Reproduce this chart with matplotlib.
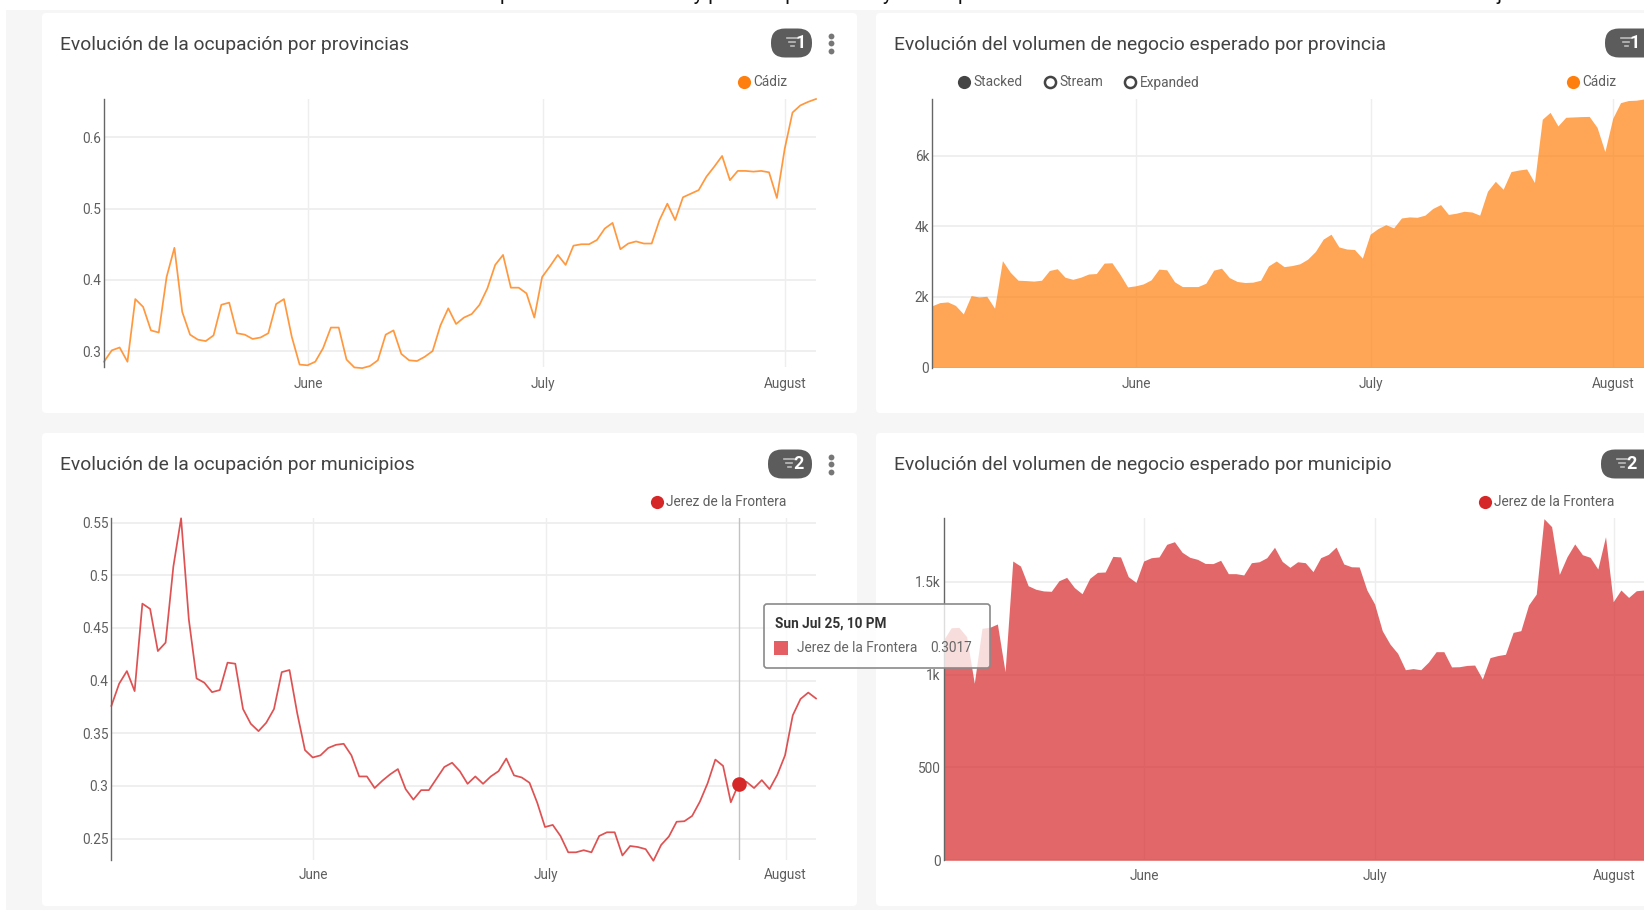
import matplotlib
matplotlib.use("Agg")
import matplotlib.pyplot as plt
import matplotlib.dates as mdates
import pandas as pd
from matplotlib.patches import FancyBboxPatch, Rectangle

W, H = 1644, 910

plt.rcParams["font.family"] = ["Roboto", "DejaVu Sans"]

dates = pd.date_range("2021-05-05 22:00", periods=92, freq="D")

ocupacion_provincia = [
    .285, .301, .305, .285, .373, .362, .329, .326, .404, .445, .355, .323, .316, .314, .322, .365,
    .368, .325, .323, .317, .319, .325, .366, .373, .320, .281, .280, .285, .304, .333, .333, .288,
    .277, .276, .279, .287, .323, .329, .296, .287, .286, .292, .300, .336, .360, .338, .347, .352,
    .365, .388, .421, .435, .389, .389, .381, .347, .404, .419, .435, .421, .448, .450, .450, .456,
    .472, .480, .443, .451, .454, .451, .451, .484, .507, .484, .516, .521, .526, .545, .559, .574,
    .540, .553, .553, .552, .553, .551, .515, .584, .635, .645, .650, .654,
]
volumen_provincia = [
    1750, 1840, 1860, 1760, 1520, 2040, 2000, 2020, 1680, 3030, 2700, 2475, 2465, 2450, 2475, 2750,
    2800, 2560, 2500, 2560, 2650, 2665, 2960, 2970, 2650, 2285, 2315, 2370, 2485, 2790, 2770, 2430,
    2295, 2295, 2295, 2390, 2760, 2815, 2550, 2440, 2410, 2420, 2475, 2880, 3020, 2860, 2890, 2940,
    3070, 3290, 3640, 3780, 3420, 3360, 3345, 3100, 3780, 3940, 4050, 3960, 4240, 4270, 4260, 4320,
    4510, 4620, 4340, 4375, 4430, 4410, 4320, 5000, 5280, 5055, 5555, 5600, 5630, 5245, 7040, 7235,
    6850, 7095, 7105, 7115, 7120, 6810, 6120, 7065, 7510, 7570, 7580, 7614,
]
ocupacion_municipio = [
    .376, .397, .409, .390, .473, .468, .428, .436, .508, .554, .458, .402, .398, .389, .391, .417,
    .416, .373, .359, .352, .360, .373, .408, .410, .369, .334, .327, .329, .336, .339, .340, .329,
    .309, .309, .298, .305, .311, .316, .297, .287, .296, .296, .307, .318, .322, .314, .302, .309,
    .302, .309, .314, .326, .310, .308, .303, .284, .261, .263, .2525, .237, .237, .239, .237, .2525,
    .256, .256, .234, .243, .242, .240, .229, .244, .252, .266, .2665, .2715, .285, .3025, .325, .319,
    .2845, .3017, .304, .298, .3055, .297, .3105, .329, .367, .3825, .3886, .383,
]
volumen_municipio = [
    1186, 1252, 1254, 1204, 953, 1249, 1254, 1272, 1015, 1611, 1584, 1478, 1459, 1450, 1448, 1505,
    1523, 1468, 1435, 1518, 1550, 1552, 1636, 1633, 1527, 1496, 1611, 1629, 1633, 1701, 1715, 1658,
    1631, 1620, 1598, 1597, 1615, 1543, 1543, 1536, 1602, 1607, 1629, 1685, 1609, 1577, 1607, 1602,
    1554, 1629, 1647, 1686, 1595, 1580, 1579, 1455, 1380, 1236, 1164, 1114, 1026, 1032, 1026, 1067,
    1123, 1123, 1041, 1042, 1049, 1051, 976, 1091, 1102, 1109, 1227, 1236, 1374, 1433, 1839, 1796,
    1539, 1634, 1703, 1645, 1631, 1568, 1742, 1392, 1455, 1415, 1451, 1455,
]

yticks_ocup_prov = [0.3, 0.4, 0.5, 0.6]
yticks_vol_prov = [0, 2000, 4000, 6000]
ylabels_vol_prov = ["0", "2k", "4k", "6k"]
yticks_ocup_mun = [0.25, 0.3, 0.35, 0.4, 0.45, 0.5, 0.55]
yticks_vol_mun = [0, 500, 1000, 1500]
ylabels_vol_mun = ["0", "500", "1k", "1.5k"]

ORANGE = "#ff7f0e"
RED = "#d62728"
GRID = "#eeeeee"
TEXT = "#5f5f5f"
FONT = 9.8

fig = plt.figure(figsize=(W / 100, H / 100), dpi=100, facecolor="white")


def px_axes(x0, y0, x1, y1, zorder=1):
    return fig.add_axes([x0 / W, 1 - y1 / H, (x1 - x0) / W, (y1 - y0) / H], zorder=zorder)


back = px_axes(0, 0, W, H, zorder=0)
back.set_xlim(0, W)
back.set_ylim(H, 0)
back.axis("off")

over = px_axes(0, 0, W, H, zorder=5)
over.set_xlim(0, W)
over.set_ylim(H, 0)
over.axis("off")
over.patch.set_alpha(0)

back.add_patch(Rectangle((6, 10), W - 6, H - 10, fc="#f6f6f6", ec="none"))


def card(x0, y0, x1, y1):
    back.add_patch(FancyBboxPatch((x0 + 4, y0 + 4), x1 - x0 - 8, y1 - y0 - 8,
                                  boxstyle="round,pad=4,rounding_size=4", fc="white", ec="none"))


def header(title, x, y, badge_x0, badge_x1, badge, dots):
    over.text(x, y + 1.5, title, fontsize=13.9, color="#424242", va="center", ha="left")
    over.add_patch(FancyBboxPatch((badge_x0 + 14, y - 0.5), badge_x1 - badge_x0 - 28, 1,
                                  boxstyle="round,pad=14,rounding_size=14", fc="#5c5c5c", ec="none"))
    cx = badge_x0 + 18
    for half, dy in [(5, -5), (3.2, -1), (1.5, 3)]:
        over.plot([cx + 3 - half, cx + 3 + half], [y + dy, y + dy], color="#bdbdbd", lw=1.2)
    over.text(badge_x0 + 30, y, badge, fontsize=13, fontweight="bold", color="white", va="center", ha="center")
    if dots:
        for dy in (-7.5, 0, 7.5):
            over.plot(831, y + dy, "o", ms=4.2, color="#777777", mec="none")


def legend_dot(x, y, label, color, filled=True):
    if filled:
        over.plot(x, y, "o", ms=9.5, color=color, mec="none")
    else:
        over.plot(x, y, "o", ms=8, mfc="white", mec=color, mew=1.8)
    over.text(x + 9.5, y - 1, label, fontsize=FONT, color=TEXT, va="center_baseline", ha="left")


def base_chart(box, ymin, ymax, yticks, ylabels, xpad):
    ax = px_axes(*box, zorder=2)
    ax.set_xlim(dates[0], dates[-1])
    ax.set_ylim(ymin, ymax)
    ax.set_yticks(yticks)
    ax.set_yticklabels(ylabels)
    ax.xaxis.set_major_locator(mdates.MonthLocator())
    ax.xaxis.set_major_formatter(mdates.DateFormatter("%B"))
    ax.grid(True, axis="y", color=GRID, lw=1.3)
    ax.grid(True, axis="x", color=GRID, lw=1.0)
    ax.set_axisbelow(True)
    ax.tick_params(axis="both", length=0, labelsize=FONT, labelcolor=TEXT)
    ax.tick_params(axis="x", pad=xpad)
    ax.tick_params(axis="y", pad=2)
    for side in ("top", "right", "bottom"):
        ax.spines[side].set_visible(False)
    ax.spines["left"].set_color("#666666")
    ax.spines["left"].set_linewidth(1.0)
    ax.patch.set_alpha(0)
    return ax


card(42, 13, 857, 413)
card(876, 13, W + 20, 413)
card(42, 433, 857, 906)
card(876, 433, W + 20, 906)

# clipped line of page text above the cards
over.text(104, 0.4, "Visualización de la evolución de las fuentes para el mes de datos y para las provincias "
          "y municipios seleccionados de la Comunidad con la demanda de alojamiento",
          fontsize=14.6, color="#111111", va="baseline", ha="left", clip_on=False)

# top left
ax1 = base_chart((104, 99, 816, 367), 0.2776, 0.654, yticks_ocup_prov, ["0.3", "0.4", "0.5", "0.6"], 7)
ax1.plot(dates, ocupacion_provincia, color=ORANGE, lw=1.25, alpha=0.8, clip_on=False)
header("Evolución de la ocupación por provincias", 60, 43, 771, 812, "1", True)
legend_dot(744, 82, "Cádiz", ORANGE)

# top right
ax2 = base_chart((932, 99, W, 367.5), 0, 7614, yticks_vol_prov, ylabels_vol_prov, 7)
ax2.fill_between(dates, volumen_provincia, color=ORANGE, alpha=0.7, lw=0)
header("Evolución del volumen de negocio esperado por provincia", 894, 43, 1605, W + 24, "1", False)
legend_dot(963.5, 82, "Stacked", "#444444")
legend_dot(1049.5, 82, "Stream", "#444444", filled=False)
legend_dot(1130, 82, "Expanded", "#444444", filled=False)
legend_dot(1572.5, 82, "Cádiz", ORANGE)

# bottom left
ax3 = base_chart((111.4, 518.3, 816, 860), 0.2297, 0.554, yticks_ocup_mun,
                 ["0.25", "0.3", "0.35", "0.4", "0.45", "0.5", "0.55"], 6)
ax3.plot(dates, ocupacion_municipio, color=RED, lw=1.25, alpha=0.8, clip_on=False)
ax3.axvline(dates[81], color="#c2c2c2", lw=1)
ax3.plot(dates[81], ocupacion_municipio[81], "o", ms=10.5, color=RED, mec="none", clip_on=False)
header("Evolución de la ocupación por municipios", 60, 464, 768, 812, "2", True)
legend_dot(656.5, 501.5, "Jerez de la Frontera", RED)

# bottom right
ax4 = base_chart((943.5, 518.3, W, 860.3), 0, 1841, yticks_vol_mun, ylabels_vol_mun, 6)
ax4.fill_between(dates, volumen_municipio, color=RED, alpha=0.7, lw=0)
header("Evolución del volumen de negocio esperado por municipio", 894, 464, 1601, W + 24, "2", False)
legend_dot(1484.5, 501.5, "Jerez de la Frontera", RED)

# tooltip
over.add_patch(FancyBboxPatch((767, 607), 220, 58, boxstyle="round,pad=3,rounding_size=3",
                              fc=(1, 1, 1, 0.78), ec="#8a8a8a", lw=1.2, zorder=6))
over.text(775, 624, "Sun Jul 25, 10 PM", fontsize=FONT, fontweight="bold", color="#333333", va="center", zorder=7)
over.add_patch(Rectangle((774, 641), 14, 14, fc="#e35f63", ec="none", zorder=7))
over.text(797, 648, "Jerez de la Frontera", fontsize=FONT, color="#666666", va="center", zorder=7)
over.text(930, 648, "0.3017", fontsize=FONT, color="#666666", va="center", zorder=7)

fig.savefig("out.png", dpi=100)
plt.close(fig)
